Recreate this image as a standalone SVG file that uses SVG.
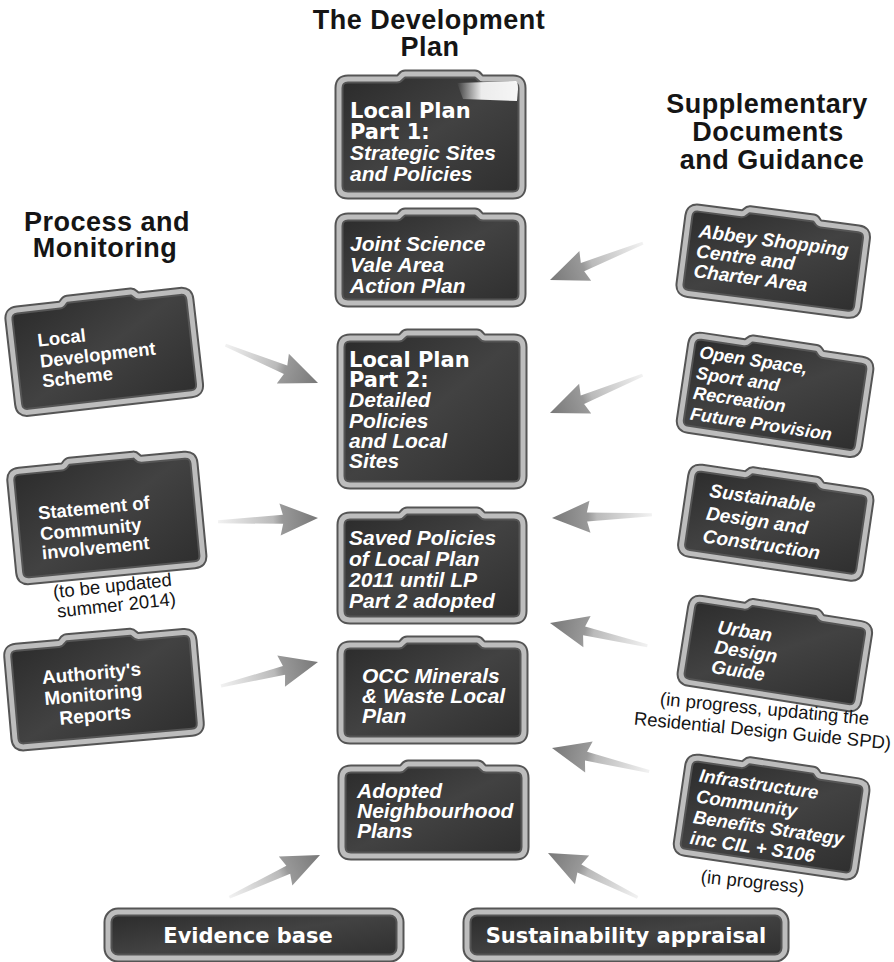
<svg xmlns="http://www.w3.org/2000/svg" width="894" height="962" viewBox="0 0 894 962">
<style>
.bo{fill:url(#bf);stroke:#555;stroke-width:9;stroke-linejoin:round}
.bi{fill:none;stroke:#bdbdbd;stroke-width:5;stroke-linejoin:round}
.ub{font-family:"DejaVu Sans",sans-serif;font-weight:bold;font-size:21px;fill:#fff}
.it{font-family:"Liberation Sans",Arial,sans-serif;font-weight:bold;font-style:italic;font-size:21px;fill:#fff}
.lb{font-family:"Liberation Sans",Arial,sans-serif;font-weight:bold;font-size:18.5px;fill:#fff}
.ri{font-family:"Liberation Sans",Arial,sans-serif;font-weight:bold;font-style:italic;font-size:19px;fill:#fff}
.hd{font-family:"Liberation Sans",Arial,sans-serif;font-weight:bold;font-size:27px;letter-spacing:0.5px;fill:#151515;text-anchor:middle}
.cap{font-family:"Liberation Sans",Arial,sans-serif;font-size:18.5px;fill:#151515;text-anchor:middle}
.bt{font-family:"DejaVu Sans",sans-serif;font-weight:bold;font-size:21px;fill:#fff;text-anchor:middle}
.arr{fill:url(#ag)}
</style>
<defs>
<linearGradient id="bf" x1="0" y1="0" x2="1" y2="1">
<stop offset="0" stop-color="#2a2a2a"/>
<stop offset="0.5" stop-color="#424242"/>
<stop offset="1" stop-color="#2e2e2e"/>
</linearGradient>
<linearGradient id="ag" gradientUnits="userSpaceOnUse" x1="-100" y1="0" x2="0" y2="0">
<stop offset="0" stop-color="#f2f2f2"/>
<stop offset="0.55" stop-color="#bababa"/>
<stop offset="0.64" stop-color="#999"/>
<stop offset="1" stop-color="#787878"/>
</linearGradient>
<linearGradient id="gl" x1="0" y1="0" x2="1" y2="0">
<stop offset="0" stop-color="#fff" stop-opacity="0"/>
<stop offset="0.4" stop-color="#fff" stop-opacity="0.9"/>
<stop offset="1" stop-color="#fff" stop-opacity="0.95"/>
</linearGradient>
<path id="arrow" d="M0,0 L-38,-16 L-35,-4.5 L-100,-1.5 L-100,1.5 L-35,4.5 L-38,16 Z"/>
<path id="s-lp1" d="M9,0 H58 C62,0 62,-5 66,-5 H136 C140,-5 140,0 144,0 H174 Q183,0 183,9 V107 Q183,116 174,116 H9 Q0,116 0,107 V9 Q0,0 9,0 Z"/>
<path id="s-js" d="M9,0 H58 C62,0 62,-5 66,-5 H136 C140,-5 140,0 144,0 H174 Q183,0 183,9 V77 Q183,86 174,86 H9 Q0,86 0,77 V9 Q0,0 9,0 Z"/>
<path id="s-lp2" d="M9,0 H58 C62,0 62,-5 66,-5 H136 C140,-5 140,0 144,0 H173 Q182,0 182,9 V138 Q182,147 173,147 H9 Q0,147 0,138 V9 Q0,0 9,0 Z"/>
<path id="s-saved" d="M9,0 H58 C62,0 62,-5 66,-5 H136 C140,-5 140,0 144,0 H173 Q182,0 182,9 V95 Q182,104 173,104 H9 Q0,104 0,95 V9 Q0,0 9,0 Z"/>
<path id="s-occ" d="M9,0 H58 C62,0 62,-5 66,-5 H136 C140,-5 140,0 144,0 H174 Q183,0 183,9 V86 Q183,95 174,95 H9 Q0,95 0,86 V9 Q0,0 9,0 Z"/>
<path id="s-adopt" d="M9,0 H58 C62,0 62,-5 66,-5 H136 C140,-5 140,0 144,0 H174 Q183,0 183,9 V78 Q183,87 174,87 H9 Q0,87 0,78 V9 Q0,0 9,0 Z"/>
<path id="s-lds" d="M9,0 H52 C56,0 56,-5 60,-5 H124 C128,-5 128,0 132,0 H173 Q182,0 182,9 V94 Q182,103 173,103 H9 Q0,103 0,94 V9 Q0,0 9,0 Z"/>
<path id="s-sci" d="M9,0 H52 C56,0 56,-5 60,-5 H124 C128,-5 128,0 132,0 H175 Q184,0 184,9 V101 Q184,110 175,110 H9 Q0,110 0,101 V9 Q0,0 9,0 Z"/>
<path id="s-amr" d="M9,0 H52 C56,0 56,-5 60,-5 H124 C128,-5 128,0 132,0 H177 Q186,0 186,9 V91 Q186,100 177,100 H9 Q0,100 0,91 V9 Q0,0 9,0 Z"/>
<path id="s-abbey" d="M9,0 H52 C56,0 56,-5 60,-5 H124 C128,-5 128,0 132,0 H170 Q179,0 179,9 V77 Q179,86 170,86 H9 Q0,86 0,77 V9 Q0,0 9,0 Z"/>
<path id="s-open" d="M9,0 H52 C56,0 56,-5 60,-5 H124 C128,-5 128,0 132,0 H171 Q180,0 180,9 V85 Q180,94 171,94 H9 Q0,94 0,85 V9 Q0,0 9,0 Z"/>
<path id="s-sust" d="M9,0 H52 C56,0 56,-5 60,-5 H124 C128,-5 128,0 132,0 H171 Q180,0 180,9 V77 Q180,86 171,86 H9 Q0,86 0,77 V9 Q0,0 9,0 Z"/>
<path id="s-urban" d="M9,0 H52 C56,0 56,-5 60,-5 H124 C128,-5 128,0 132,0 H170 Q179,0 179,9 V75 Q179,84 170,84 H9 Q0,84 0,75 V9 Q0,0 9,0 Z"/>
<path id="s-infra" d="M9,0 H52 C56,0 56,-5 60,-5 H124 C128,-5 128,0 132,0 H170 Q179,0 179,9 V86 Q179,95 170,95 H9 Q0,95 0,86 V9 Q0,0 9,0 Z"/>
</defs>
<rect width="894" height="962" fill="#fff"/>

<g id="headers">
<text class="hd" x="429" y="29">The Development</text>
<text class="hd" x="430" y="56">Plan</text>
<text class="hd" x="107" y="231">Process and</text>
<text class="hd" x="105" y="257">Monitoring</text>
<text class="hd" x="767" y="113">Supplementary</text>
<text class="hd" x="768" y="141">Documents</text>
<text class="hd" x="772" y="169">and Guidance</text>
</g>

<g id="connectors">
<use href="#arrow" class="arr" transform="translate(318,383) rotate(22.2)"/>
<use href="#arrow" class="arr" transform="translate(318,518) rotate(-2.2)"/>
<use href="#arrow" class="arr" transform="translate(318,662) rotate(-13.9)"/>
<use href="#arrow" class="arr" transform="translate(550,280) rotate(158.3)"/>
<use href="#arrow" class="arr" transform="translate(550,413) rotate(157.8)"/>
<use href="#arrow" class="arr" transform="translate(552,518) rotate(178.2)"/>
<use href="#arrow" class="arr" transform="translate(550,623) rotate(-166.9)"/>
<use href="#arrow" class="arr" transform="translate(552,748) rotate(-166.4)"/>
<use href="#arrow" class="arr" transform="translate(548,853) rotate(-153.7)"/>
<use href="#arrow" class="arr" transform="translate(320,855) rotate(-25)"/>
</g>

<g id="n-lp1" transform="translate(339,79)">
<use href="#s-lp1" class="bo"/><use href="#s-lp1" class="bi"/>
<path d="M118,4 L177,2 Q179,3 179,10 L178,22 L124,20 Z" fill="url(#gl)"/>
<text class="ub" x="11" y="39">Local Plan</text>
<text class="ub" x="11" y="60">Part 1:</text>
<text class="it" x="11" y="81">Strategic Sites</text>
<text class="it" x="11" y="102">and Policies</text>
</g>
<g id="n-js" transform="translate(339,217)">
<use href="#s-js" class="bo"/><use href="#s-js" class="bi"/>
<text class="it" x="11" y="34">Joint Science</text>
<text class="it" x="11" y="55">Vale Area</text>
<text class="it" x="11" y="76">Action Plan</text>
</g>
<g id="n-lp2" transform="translate(341,338)">
<use href="#s-lp2" class="bo"/><use href="#s-lp2" class="bi"/>
<text class="ub" x="8" y="29">Local Plan</text>
<text class="ub" x="8" y="49">Part 2:</text>
<text class="it" x="8" y="69">Detailed</text>
<text class="it" x="8" y="90">Policies</text>
<text class="it" x="8" y="110">and Local</text>
<text class="it" x="8" y="130">Sites</text>
</g>
<g id="n-saved" transform="translate(341,516)">
<use href="#s-saved" class="bo"/><use href="#s-saved" class="bi"/>
<text class="it" x="8" y="29">Saved Policies</text>
<text class="it" x="8" y="50">of Local Plan</text>
<text class="it" x="8" y="71">2011 until LP</text>
<text class="it" x="8" y="92">Part 2 adopted</text>
</g>
<g id="n-occ" transform="translate(341,645)">
<use href="#s-occ" class="bo"/><use href="#s-occ" class="bi"/>
<text class="it" x="21" y="38">OCC Minerals</text>
<text class="it" x="21" y="58">&amp; Waste Local</text>
<text class="it" x="21" y="78">Plan</text>
</g>
<g id="n-adopted" transform="translate(342,769)">
<use href="#s-adopt" class="bo"/><use href="#s-adopt" class="bi"/>
<text class="it" x="15" y="29">Adopted</text>
<text class="it" x="15" y="49">Neighbourhood</text>
<text class="it" x="15" y="69">Plans</text>
</g>

<g id="n-lds" transform="translate(8,311) rotate(-6.5)">
<use href="#s-lds" class="bo"/><use href="#s-lds" class="bi"/>
<text class="lb" x="26" y="39">Local</text>
<text class="lb" x="26" y="60">Development</text>
<text class="lb" x="26" y="80">Scheme</text>
</g>
<g id="n-sci" transform="translate(10,472) rotate(-5.5)">
<use href="#s-sci" class="bo"/><use href="#s-sci" class="bi"/>
<text class="lb" x="24" y="50">Statement of</text>
<text class="lb" x="24" y="71">Community</text>
<text class="lb" x="24" y="90">involvement</text>
</g>
<g id="cap-sci" transform="translate(113,592) rotate(-6)">
<text class="cap" x="0" y="0">(to be updated</text>
<text class="cap" x="2" y="19.5">summer 2014)</text>
</g>
<g id="n-amr" transform="translate(7,648) rotate(-5)">
<use href="#s-amr" class="bo"/><use href="#s-amr" class="bi"/>
<text class="lb" x="82" y="39" text-anchor="middle" style="font-size:19px">Authority's</text>
<text class="lb" x="82" y="60" text-anchor="middle" style="font-size:19px">Monitoring</text>
<text class="lb" x="82" y="81" text-anchor="middle" style="font-size:19px">Reports</text>
</g>

<g id="n-abbey" transform="translate(690,207) rotate(7.4)">
<use href="#s-abbey" class="bo"/><use href="#s-abbey" class="bi"/>
<text class="ri" x="12" y="29">Abbey Shopping</text>
<text class="ri" x="12" y="49">Centre and</text>
<text class="ri" x="12" y="69">Charter Area</text>
</g>
<g id="n-open" transform="translate(693,335) rotate(8.5)">
<use href="#s-open" class="bo"/><use href="#s-open" class="bi"/>
<text class="ri" x="9" y="22" style="font-size:18px">Open Space,</text>
<text class="ri" x="9" y="43" style="font-size:18px">Sport and</text>
<text class="ri" x="9" y="63" style="font-size:18px">Recreation</text>
<text class="ri" x="9" y="84" style="font-size:18px">Future Provision</text>
</g>
<g id="n-sust" transform="translate(693,467) rotate(8.4)">
<use href="#s-sust" class="bo"/><use href="#s-sust" class="bi"/>
<text class="ri" x="20" y="27">Sustainable</text>
<text class="ri" x="20" y="50">Design and</text>
<text class="ri" x="20" y="73">Construction</text>
</g>
<g id="n-urban" transform="translate(693,598) rotate(9)">
<use href="#s-urban" class="bo"/><use href="#s-urban" class="bi"/>
<text class="ri" x="29" y="31">Urban</text>
<text class="ri" x="29" y="51">Design</text>
<text class="ri" x="29" y="71">Guide</text>
</g>
<g id="cap-urban" transform="translate(764,715) rotate(5.5)">
<text class="cap" x="0" y="0">(in progress, updating the</text>
<text class="cap" x="0" y="22">Residential Design Guide SPD)</text>
</g>
<g id="n-infra" transform="translate(690,757) rotate(8.4)">
<use href="#s-infra" class="bo"/><use href="#s-infra" class="bi"/>
<text class="ri" x="12" y="23" style="font-size:18.5px">Infrastructure</text>
<text class="ri" x="12" y="44" style="font-size:18.5px">Community</text>
<text class="ri" x="12" y="65" style="font-size:18.5px">Benefits Strategy</text>
<text class="ri" x="12" y="86" style="font-size:18.5px">inc CIL + S106</text>
</g>
<g id="cap-infra" transform="translate(752,888) rotate(6)">
<text class="cap" x="0" y="0">(in progress)</text>
</g>

<g id="n-evidence">
<rect class="bo" x="108" y="912" width="292" height="46" rx="10"/>
<rect class="bi" x="108" y="912" width="292" height="46" rx="10"/>
<text class="bt" x="248" y="943">Evidence base</text>
</g>
<g id="n-sa">
<rect class="bo" x="467" y="912" width="318" height="46" rx="10"/>
<rect class="bi" x="467" y="912" width="318" height="46" rx="10"/>
<text class="bt" x="626" y="943">Sustainability appraisal</text>
</g>
</svg>
